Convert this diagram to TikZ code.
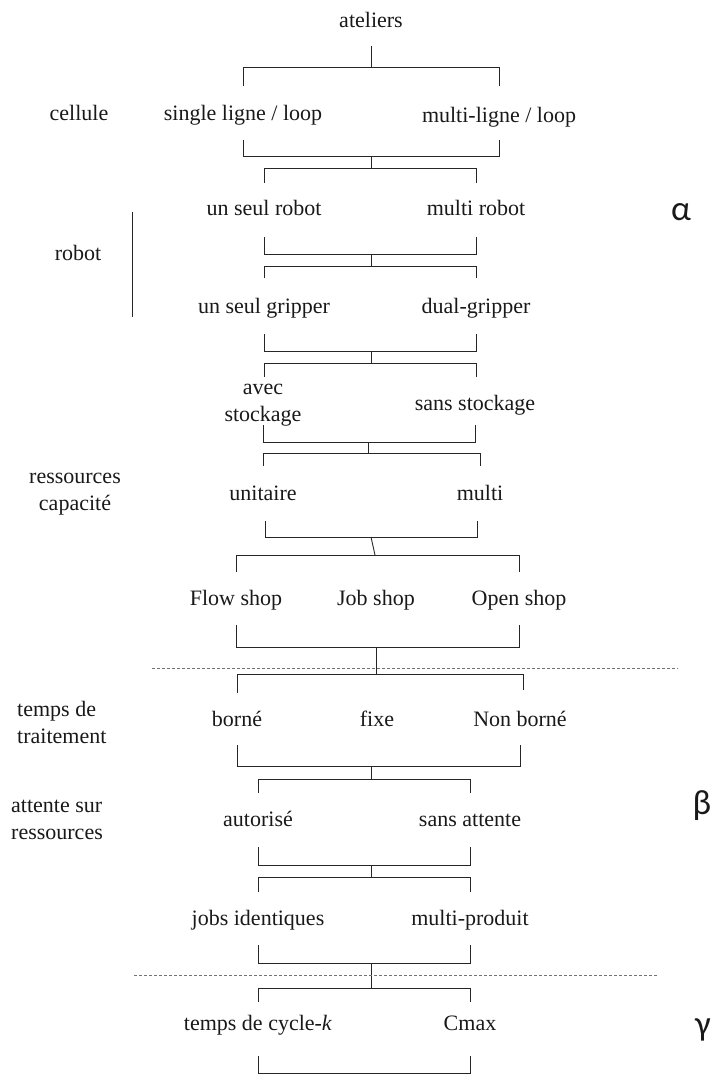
\documentclass[tikz,border=0pt]{standalone}
\usepackage{fontspec}
\setmainfont{Liberation Serif}
\newfontfamily\greekfont{Carlito}
\usetikzlibrary{calc}

\tikzset{
  lbl/.style={font=\fontsize{22}{27}\selectfont, text=black!90, inner sep=0pt, anchor=base},
  twoline/.style={font=\fontsize{22}{27}\selectfont, text=black!90, inner sep=0pt, align=center, anchor=center},
  greek/.style={font=\greekfont\fontsize{35}{35}\selectfont, text=black!90, inner sep=0pt, anchor=base},
  link/.style={draw=black!85, line width=0.9pt},
  sep/.style={draw=black!55, line width=0.7pt, dash pattern=on 3pt off 2pt},
}

% bracket: legs at the x of two nodes, from y #3 to the bar at y #4
\newcommand\fork[4]{\draw[link] (#1 |- 0,#3) -- (#1 |- 0,#4) -- (#2 |- 0,#4) -- (#2 |- 0,#3);}
% vertical joint on the spine between two bars
\newcommand\joint[2]{\draw[link] (spine |- 0,#1) -- (spine |- 0,#2);}

\begin{document}
\begin{tikzpicture}[x=1pt, y=-1pt]
\useasboundingbox (0,0) rectangle (715,1074);
\coordinate (spine) at (371,0);

% ---- labels of the classification ----
\node[lbl] (ateliers) at (371,27) {ateliers};

\node[lbl] (cellule) at (79,120) {cellule};
\node[lbl] (single) at (243,120) {single ligne / loop};
\node[lbl] (multiligne) at (499,122) {multi-ligne / loop};

\node[lbl] (seulrobot) at (264,215) {un seul robot};
\node[lbl] (multirobot) at (476,215) {multi robot};
\node[greek] (alpha) at (681,220) {α};
\node[lbl] (robot) at (78,260) {robot};
\coordinate (rtop) at (132,212);
\coordinate (rbot) at (132,317);

\node[lbl] (seulgrip) at (264,313) {un seul gripper};
\node[lbl] (dualgrip) at (476,313) {dual-gripper};

\node[twoline] (avec) at (263,405) {avec\\stockage};
\node[lbl] (sansstock) at (475,410) {sans stockage};

\node[twoline] (capacite) at (75,494) {ressources\\capacité};
\node[lbl] (unitaire) at (263,500) {unitaire};
\node[lbl] (multicap) at (480,500) {multi};

\node[lbl] (flow) at (236,605) {Flow shop};
\node[lbl] (job) at (376,605) {Job shop};
\node[lbl] (open) at (519,605) {Open shop};

\node[twoline, align=left, anchor=west] (traitement) at (17,722) {temps de\\traitement};
\node[lbl] (borne) at (237,726) {borné};
\node[lbl] (fixe) at (377,726) {fixe};
\node[lbl] (nonborne) at (520,726) {Non borné};

\node[twoline, align=left, anchor=west] (attente) at (11,820) {attente sur\\ressources};
\node[lbl] (autorise) at (258,826) {autorisé};
\node[lbl] (sansattente) at (470,826) {sans attente};
\node[greek] (beta) at (702,814) {β};

\node[lbl] (jobs) at (258,925) {jobs identiques};
\node[lbl] (multiprod) at (470,925) {multi-produit};

\node[lbl] (cycle) at (258,1030) {temps de cycle-\textit{k}};
\node[lbl] (cmax) at (470,1030) {Cmax};
\node[greek] (gamma) at (703,1035) {γ};

% ---- brackets ----
\joint{46}{67}
\fork{single}{multiligne}{86}{67}
\fork{single}{multiligne}{140}{156}
\joint{156}{168}
\fork{seulrobot}{multirobot}{183}{168}

\fork{seulrobot}{multirobot}{237}{254}
\joint{254}{266}
\fork{seulgrip}{dualgrip}{278}{266}

\fork{seulgrip}{dualgrip}{334}{351}
\joint{351}{363}
\fork{seulgrip}{dualgrip}{377}{363}

\fork{avec}{sansstock}{425}{442}
\draw[link] ($(spine |- 0,442)+(-3,0)$) -- ($(spine |- 0,453)+(-3,0)$);
\fork{unitaire}{multicap}{466}{453}

\draw[link] ($(unitaire |- 0,521)+(2,0)$) -- ($(unitaire |- 0,537)+(2,0)$)
  -- ($(multicap |- 0,537)+(-3,0)$) -- ($(multicap |- 0,521)+(-3,0)$);
\draw[link] (spine |- 0,537) -- ($(spine |- 0,555)+(4,0)$);
\fork{flow}{open}{572}{555}

\fork{flow}{open}{625}{647}
\draw[link] (job |- 0,647) -- (job |- 0,674);
\draw[link] (borne |- 0,693) -- (borne |- 0,674) -- ($(nonborne |- 0,674)+(3,0)$) -- ($(nonborne |- 0,690)+(3,0)$);

\fork{borne}{nonborne}{745}{766}
\joint{766}{779}
\fork{autorise}{sansattente}{793}{779}

\fork{autorise}{sansattente}{847}{865}
\joint{865}{877}
\fork{jobs}{multiprod}{892}{877}

\fork{jobs}{multiprod}{945}{963}
\joint{963}{988}
\fork{cycle}{cmax}{1002}{988}

\fork{cycle}{cmax}{1056}{1073}

% ---- side rule of the robot group ----
\draw[link] (rtop) -- (rbot);

% ---- separators between the three fields ----
\coordinate (s1l) at (152,668);
\coordinate (s1r) at (678,668);
\coordinate (s2l) at (134,975);
\coordinate (s2r) at (658,975);
\draw[sep] (s1l) -- (s1r);
\draw[sep] (s2l) -- (s2r);
\end{tikzpicture}
\end{document}
